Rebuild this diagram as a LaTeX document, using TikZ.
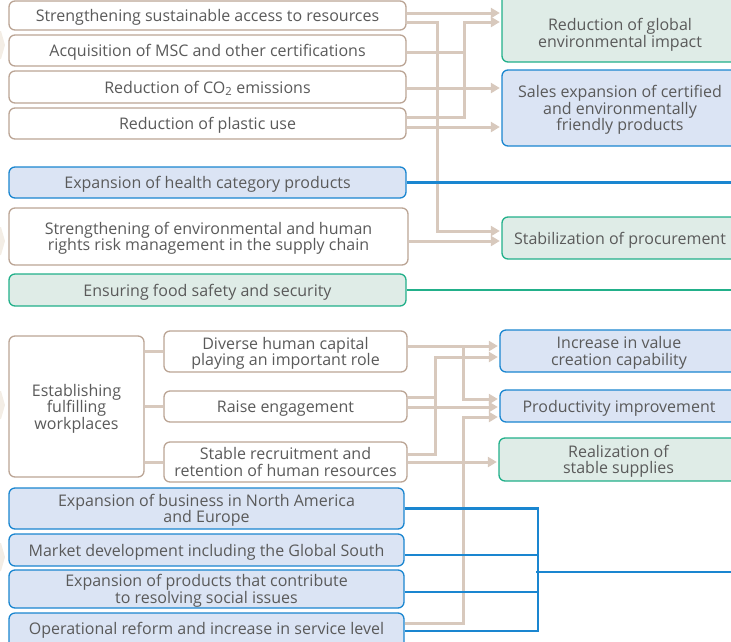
\documentclass[tikz,border=0pt]{standalone}
\usepackage{fontspec}
\setmainfont{Open Sans}
\usetikzlibrary{arrows.meta,calc}
\definecolor{txt}{HTML}{5A5A5A}
\definecolor{bgB}{HTML}{DBE4F4}
\definecolor{bdB}{HTML}{1A86D0}
\definecolor{bgG}{HTML}{DFECE7}
\definecolor{bdG}{HTML}{22B08A}
\definecolor{bdW}{HTML}{BBA595}
\definecolor{cn}{HTML}{D8C9BD}
\definecolor{chev}{HTML}{F3EDE5}
\begin{document}
\begin{tikzpicture}[x=1pt,y=-1pt,
 box/.style={rounded corners=6pt, line width=1.3pt, align=center, text=txt, font=\fontsize{16}{16.5}\selectfont, inner sep=0pt, text depth=0pt},
 wbox/.style={box, draw=bdW, fill=white},
 bbox/.style={box, draw=bdB, fill=bgB},
 gbox/.style={box, draw=bdG, fill=bgG},
 lbl/.style={align=center, text=txt, font=\fontsize{16}{16.5}\selectfont, inner sep=0pt, text depth=0pt},
 conn/.style={draw=cn, line width=3pt},
 arr/.style={conn, shorten >=1.5pt, -{Triangle[length=9pt,width=10pt]}},
 bline/.style={draw=bdB, line width=2.5pt},
 gline/.style={draw=bdG, line width=2.5pt}]
\useasboundingbox (0,0) rectangle (731,641);
% faint chevrons at the left edge
\foreach \c in {45,241,405,557}{
  \fill[chev] (0,\c-14) -- (1,\c-14) -- (5,\c) -- (1,\c+14) -- (0,\c+14) -- cycle;
}
% left column
\node[wbox, minimum width=397pt, minimum height=29pt] (b1) at (207.5,15.5) {Strengthening sustainable access to resources};
\node[wbox, minimum width=397pt, minimum height=31pt] (b2) at (207.5,50.5) {Acquisition of MSC and other certifications};
\node[wbox, minimum width=397pt, minimum height=32pt] (b3) at (207.5,87) {Reduction of CO\textsubscript{2} emissions};
\node[wbox, minimum width=397pt, minimum height=31pt] (b4) at (207.5,123.5) {Reduction of plastic use};
\node[bbox, minimum width=397pt, minimum height=31pt] (b5) at (207.5,182.5) {Expansion of health category products};
\node[wbox, minimum width=399pt, minimum height=57pt] (b6) at (208.5,236.5) {Strengthening of environmental and human\\rights risk management in the supply chain};
\node[gbox, minimum width=397pt, minimum height=32pt] (b7) at (207.5,290) {Ensuring food safety and security};
\node[wbox, minimum width=135pt, minimum height=141pt] (b8) at (76.5,406.5) {Establishing\\fulfilling\\workplaces};
\node[wbox, minimum width=243pt, minimum height=41pt] (b9) at (285.5,351.5) {Diverse human capital\\playing an important role};
\node[wbox, minimum width=243pt, minimum height=31pt] (b10) at (285.5,406.5) {Raise engagement};
\node[wbox, minimum width=243pt, minimum height=40pt] (b11) at (285.5,462) {Stable recruitment and\\retention of human resources};
\node[bbox, minimum width=395pt, minimum height=41pt] (b12) at (206.5,508.5) {Expansion of business in North America\\and Europe};
\node[bbox, minimum width=395pt, minimum height=32pt] (b13) at (206.5,550) {Market development including the Global South};
\node[bbox, minimum width=395pt, minimum height=38pt] (b14) at (206.5,589) {Expansion of products that contribute\\to resolving social issues};
\node[bbox, minimum width=395pt, minimum height=37pt] (b15) at (206.5,631.5) {};
\node[lbl] (b15t) at (206.5,628) {Operational reform and increase in service level};
% right column
\node[gbox, minimum width=236pt, minimum height=68pt] (r1) at (620,28) {};
\node[lbl] (r1t) at (620,33) {Reduction of global\\environmental impact};
\node[bbox, minimum width=236pt, minimum height=76pt] (r2) at (620,108) {Sales expansion of certified\\and environmentally\\friendly products};
\node[gbox, minimum width=236pt, minimum height=42pt] (r3) at (620,238) {Stabilization of procurement};
\node[bbox, minimum width=238pt, minimum height=42pt] (r4) at (619,351) {Increase in value\\creation capability};
\node[bbox, minimum width=238pt, minimum height=32pt] (r5) at (619,406) {Productivity improvement};
\node[gbox, minimum width=239pt, minimum height=43pt] (r6) at (618.5,459.5) {Realization of\\stable supplies};
% ports
\coordinate (b1a) at ([yshift=2.5pt]b1.east);
\coordinate (b1b) at ([yshift=-6.5pt]b1.east);
\coordinate (b2a) at ([yshift=-1.5pt]b2.east);
\coordinate (b3a) at ([yshift=-1pt]b3.east);
\coordinate (b4a) at ([yshift=6.5pt]b4.east);
\coordinate (b4b) at ([yshift=-3.5pt]b4.east);
\coordinate (b6a) at ([yshift=-4.5pt]b6.east);
\coordinate (b9a) at ([yshift=5.5pt]b9.east);
\coordinate (b10a) at ([yshift=9.5pt]b10.east);
\coordinate (b10b) at ([yshift=-0.5pt]b10.east);
\coordinate (b11a) at ([yshift=8pt]b11.east);
\coordinate (b11b) at (b11.east);
\coordinate (b15a) at ([yshift=8.5pt]b15.east);
\coordinate (b15b) at ([yshift=0.5pt]b15.east);
\coordinate (b13a) at ([yshift=-5pt]b13.east);
\coordinate (b14a) at ([yshift=-3pt]b14.east);
\coordinate (r1b) at ([yshift=6pt]r1.west);
\coordinate (r3a) at ([yshift=7pt]r3.west);
\coordinate (r4b) at ([yshift=-6pt]r4.west);
\coordinate (r5a) at ([yshift=7pt]r5.west);
\coordinate (r5c) at ([yshift=-11pt]r5.west);
\coordinate (v1) at (437,0);
\coordinate (v2) at (464,0);
\coordinate (v3) at (435,0);
\coordinate (v4) at (463,0);
\coordinate (vb) at (538,0);
\coordinate (hy) at (536,572);
\coordinate (edge) at (745,0);
% beige connectors, top group
\draw[arr] (b1a) -- (b1a -| r1.west);
\draw[arr] (b1b) -- (b1b -| v1) -- (v1 |- r3a) -- (r3a);
\draw[conn] (b2a) -- (b2a -| v2);
\draw[arr] (b4a) -- (b4a -| v2) -- (v2 |- r1b) -- (r1b);
\draw[arr] (b3a) -- (b3a -| r2.west);
\draw[arr] (b4b) -- (b4b -| r2.west);
\draw[arr] (b6a) -- (b6a -| r3.west);
% beige connectors, middle group
\draw[conn] (b9.west -| b8.east) -- (b9.west);
\draw[conn] (b10.west -| b8.east) -- (b10.west);
\draw[conn] (b11.west -| b8.east) -- (b11.west);
\draw[arr] (b9a) -- (b9a -| r4.west);
\draw[arr] (b9a -| v4) -- (v4 |- r5a) -- (r5a);
\draw[arr] (b10a) -- (b10a -| v3) -- (v3 |- r4b) -- (r4b);
\draw[conn] (b11a) -- (b11a -| v3) -- (v3 |- b10a);
\draw[arr] (b10b) -- (b10b -| r5.west);
\draw[arr] (b11b) -- (b11b -| r6.west);
\draw[arr] (b15a) -- (b15a -| v4) -- (v4 |- r5c) -- (r5c);
% coloured lines
\draw[bline] (b5.east) -- (b5.east -| edge);
\draw[gline] (b7.east) -- (b7.east -| edge);
\draw[bline] (b12.east) -- (b12.east -| vb) -- (vb |- b15b) -- (b15b);
\draw[bline] (b13a) -- (b13a -| vb);
\draw[bline] (b14a) -- (b14a -| vb);
\draw[bline] (hy) -- (hy -| edge);
\end{tikzpicture}
\end{document}
